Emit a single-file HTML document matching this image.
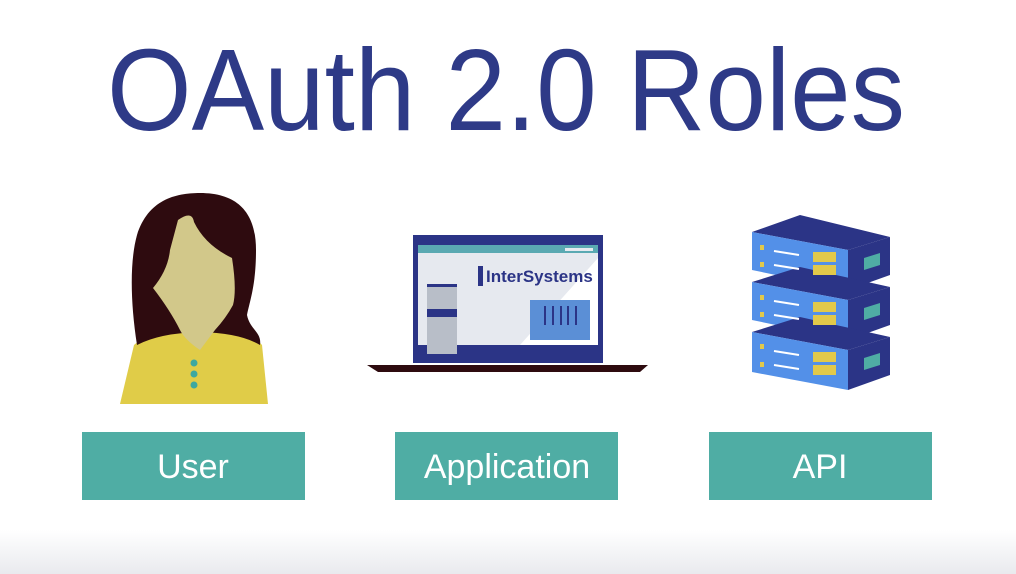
<!DOCTYPE html>
<html><head><meta charset="utf-8"><style>
html,body{margin:0;padding:0;width:1016px;height:574px;overflow:hidden;background:#fff}
</style></head><body>
<svg width="1016" height="574" viewBox="0 0 1016 574" xmlns="http://www.w3.org/2000/svg">
<defs>
<linearGradient id="bg" x1="0" y1="0" x2="0" y2="1">
<stop offset="0" stop-color="#fff"/><stop offset="1" stop-color="#e9eaee"/>
</linearGradient>
</defs>
<rect x="0" y="530" width="1016" height="44" fill="url(#bg)"/>
<text x="107" y="130" font-family="Liberation Sans, sans-serif" font-size="116" fill="#2e3a87" textLength="798" lengthAdjust="spacingAndGlyphs">OAuth 2.0 Roles</text>

<!-- User -->
<path d="M120,404 L134,345 Q150,330 200,330 Q250,330 262,345 L268,404 Z" fill="#e0cc48"/>
<path d="M137,345 C130,300 130,260 137,235 C148,200 175,193 200,193 C240,193 256,215 256,250 C256,285 250,300 247,315 C250,330 262,332 260,345 Q240,333 200,332 Q160,333 137,345 Z" fill="#2e0b0f"/>
<path d="M178,220 Q192,210 194,222 Q205,245 232,258 Q237,290 233,305 Q226,318 215,330 L200,350 Q185,340 180,330 Q170,310 153,288 Q168,270 170,250 Z" fill="#d2c88a"/>
<circle cx="194" cy="363" r="3.5" fill="#3da8a0"/>
<circle cx="194" cy="374" r="3.5" fill="#3da8a0"/>
<circle cx="194" cy="385" r="3.5" fill="#3da8a0"/>

<!-- Laptop -->
<rect x="413" y="235" width="190" height="128" fill="#2b3486"/>
<rect x="418" y="245" width="180" height="100" fill="#e6e9ef"/>
<polygon points="520,345 598,258 598,345" fill="#fff"/>
<rect x="418" y="245" width="180" height="8" fill="#5aa9b2"/>
<rect x="565" y="248" width="28" height="3" fill="#e6e9ef"/>
<rect x="418" y="345" width="180" height="8" fill="#2b3486"/>
<rect x="478" y="266" width="5" height="20" fill="#2b3486"/>
<text x="486" y="282" font-family="Liberation Sans, sans-serif" font-size="17" font-weight="bold" fill="#2b3486">InterSystems</text>
<rect x="427" y="284" width="30" height="70" fill="#b8bec8"/>
<rect x="427" y="284" width="30" height="3" fill="#2b3486"/>
<rect x="427" y="309" width="30" height="8" fill="#2b3486"/>
<rect x="530" y="300" width="60" height="40" fill="#5b8fd6"/>
<g stroke="#2b3486" stroke-width="2"><line x1="545" y1="306" x2="545" y2="325"/><line x1="553" y1="306" x2="553" y2="325"/><line x1="561" y1="306" x2="561" y2="325"/><line x1="568" y1="306" x2="568" y2="325"/><line x1="576" y1="306" x2="576" y2="325"/></g>
<polygon points="367,365 648,365 640,372 378,372" fill="#2e0b0f"/>

<!-- Server -->
<g>
<polygon points="752,232 800,215 890,237 848,250" fill="#2b3486"/>
<polygon points="752,232 848,250 848,290 752,270" fill="#5390e8"/>
<polygon points="848,250 890,237 890,275 848,290" fill="#2b3486"/>
<polygon points="752,282 800,267 890,287 848,300" fill="#2b3486"/>
<polygon points="752,282 848,300 848,340 752,320" fill="#5390e8"/>
<polygon points="848,300 890,287 890,325 848,340" fill="#2b3486"/>
<polygon points="752,332 800,317 890,337 848,350" fill="#2b3486"/>
<polygon points="752,332 848,350 848,390 752,372" fill="#5390e8"/>
<polygon points="848,350 890,337 890,375 848,390" fill="#2b3486"/>
<g fill="#e2c94a">
<rect x="813" y="252" width="23" height="10"/><rect x="813" y="265" width="23" height="10"/>
<rect x="813" y="302" width="23" height="10"/><rect x="813" y="315" width="23" height="10"/>
<rect x="813" y="352" width="23" height="10"/><rect x="813" y="365" width="23" height="10"/>
<rect x="760" y="245" width="4" height="5"/><rect x="760" y="262" width="4" height="5"/>
<rect x="760" y="295" width="4" height="5"/><rect x="760" y="312" width="4" height="5"/>
<rect x="760" y="344" width="4" height="5"/><rect x="760" y="362" width="4" height="5"/>
</g>
<g stroke="#fff" stroke-width="2"><line x1="774" y1="251" x2="799" y2="255"/><line x1="774" y1="265" x2="799" y2="269"/>
<line x1="774" y1="301" x2="799" y2="305"/><line x1="774" y1="315" x2="799" y2="319"/>
<line x1="774" y1="351" x2="799" y2="355"/><line x1="774" y1="365" x2="799" y2="369"/></g>
<g fill="#4fada4"><polygon points="864,258 880,253 880,265 864,270"/><polygon points="864,308 880,303 880,315 864,320"/><polygon points="864,358 880,353 880,365 864,370"/></g>
</g>

<!-- Labels -->
<g fill="#4fada4">
<rect x="82" y="432" width="223" height="68"/>
<rect x="395" y="432" width="223" height="68"/>
<rect x="709" y="432" width="223" height="68"/>
</g>
<g font-family="Liberation Sans, sans-serif" font-size="34" fill="#fff" text-anchor="middle">
<text x="193" y="478">User</text>
<text x="507" y="478">Application</text>
<text x="820" y="478">API</text>
</g>
</svg>
</body></html>
